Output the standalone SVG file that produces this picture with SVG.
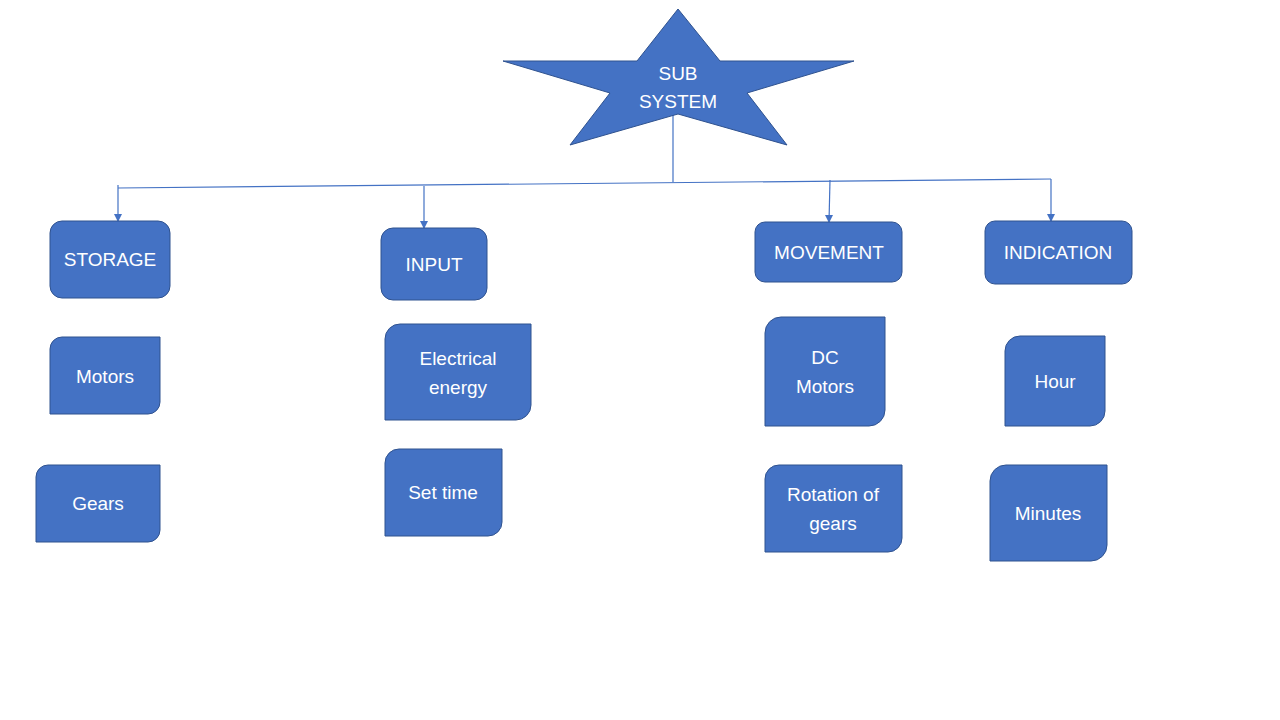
<svg xmlns="http://www.w3.org/2000/svg" width="1280" height="720" viewBox="0 0 1280 720">
<defs>
<style>
.n{fill:#4472C4;stroke:#2F528F;stroke-width:1}
.t{fill:#fff;font-family:"Liberation Sans",Arial,sans-serif;font-size:19px;text-anchor:middle}
.c{stroke:#4472C4;stroke-width:1.2;fill:none}
</style>
<marker id="ah" markerWidth="8" markerHeight="8" refX="4" refY="7" orient="0" markerUnits="userSpaceOnUse">
<path d="M0,0 L8,0 L4,8 Z" fill="#4472C4"/>
</marker>
</defs>
<rect width="1280" height="720" fill="#fff"/>
<g id="connectors">
<line class="c" x1="673" y1="114" x2="673" y2="182"/>
<line class="c" x1="118" y1="188" x2="1051" y2="179"/>
<line class="c" x1="118" y1="185" x2="118" y2="221" marker-end="url(#ah)"/>
<line class="c" x1="424" y1="186" x2="424" y2="228" marker-end="url(#ah)"/>
<line class="c" x1="830" y1="180" x2="829" y2="222" marker-end="url(#ah)"/>
<line class="c" x1="1051" y1="179" x2="1051" y2="221" marker-end="url(#ah)"/>
</g>
<g id="star">
<polygon class="n" points="678,9 720,61 854,61 747,93 787,145 678,114 570,145 610,93 503,61 637,61"/>
<text class="t" x="678" y="80">SUB</text>
<text class="t" x="678" y="108">SYSTEM</text>
</g>
<g id="storage"><rect class="n" x="50" y="221" width="120" height="77" rx="12"/><text class="t" x="110" y="266">STORAGE</text></g>
<g id="input"><rect class="n" x="381" y="228" width="106" height="72" rx="12"/><text class="t" x="434" y="271">INPUT</text></g>
<g id="movement"><rect class="n" x="755" y="222" width="147" height="60" rx="10"/><text class="t" x="829" y="259">MOVEMENT</text></g>
<g id="indication"><rect class="n" x="985" y="221" width="147" height="63" rx="10"/><text class="t" x="1058" y="259">INDICATION</text></g>
<g id="motors"><path class="n" d="M62,337 H160 V402 A12,12 0 0 1 148,414 H50 V349 A12,12 0 0 1 62,337 Z"/><text class="t" x="105" y="383">Motors</text></g>
<g id="gears"><path class="n" d="M48,465 H160 V530 A12,12 0 0 1 148,542 H36 V477 A12,12 0 0 1 48,465 Z"/><text class="t" x="98" y="510">Gears</text></g>
<g id="electrical"><path class="n" d="M400,324 H531 V405 A15,15 0 0 1 516,420 H385 V339 A15,15 0 0 1 400,324 Z"/><text class="t" x="458" y="365">Electrical</text><text class="t" x="458" y="394">energy</text></g>
<g id="settime"><path class="n" d="M399,449 H502 V522 A14,14 0 0 1 488,536 H385 V463 A14,14 0 0 1 399,449 Z"/><text class="t" x="443" y="499">Set time</text></g>
<g id="dcmotors"><path class="n" d="M781,317 H885 V410 A16,16 0 0 1 869,426 H765 V333 A16,16 0 0 1 781,317 Z"/><text class="t" x="825" y="364">DC</text><text class="t" x="825" y="393">Motors</text></g>
<g id="rotation"><path class="n" d="M779,465 H902 V538 A14,14 0 0 1 888,552 H765 V479 A14,14 0 0 1 779,465 Z"/><text class="t" x="833" y="501">Rotation of</text><text class="t" x="833" y="530">gears</text></g>
<g id="hour"><path class="n" d="M1020,336 H1105 V411 A15,15 0 0 1 1090,426 H1005 V351 A15,15 0 0 1 1020,336 Z"/><text class="t" x="1055" y="388">Hour</text></g>
<g id="minutes"><path class="n" d="M1006,465 H1107 V545 A16,16 0 0 1 1091,561 H990 V481 A16,16 0 0 1 1006,465 Z"/><text class="t" x="1048" y="520">Minutes</text></g>
</svg>
